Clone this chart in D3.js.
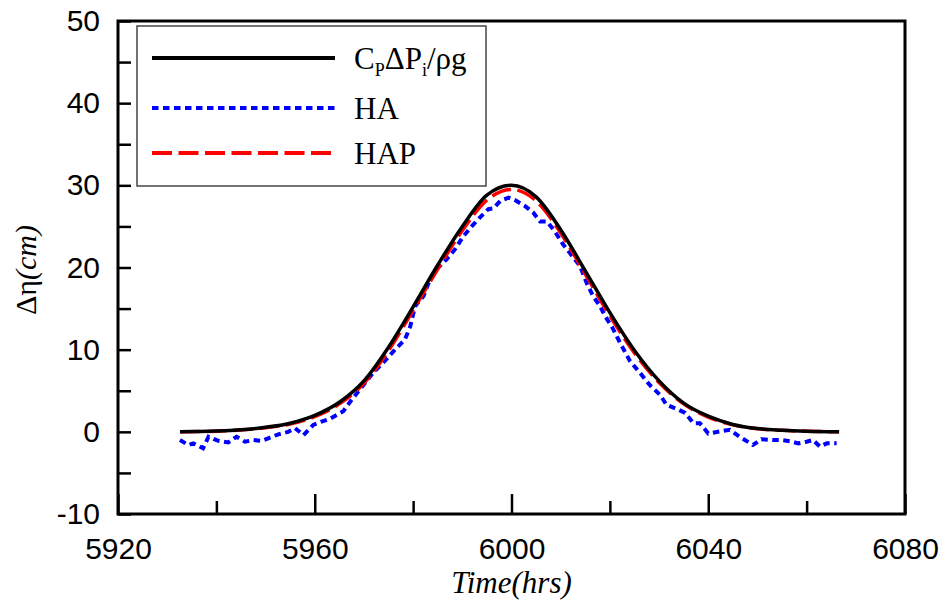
<!DOCTYPE html>
<html lang="en">
    <body onload='init()'>
        <svg></svg>
    </body>

    <script src='https://d3js.org/d3.v7.min.js'></script>

    <script>
        // values
        var cpTime = [5932.6, 5935, 5940, 5945, 5950, 5955, 5960, 5965, 5970, 5975, 5980, 5985, 5990, 5995, 6000,
                      6005, 6010, 6015, 6020, 6025, 6030, 6035, 6040, 6045, 6050, 6055, 6060, 6066.6];
        var cpVal  = [0.0, 0.03, 0.1, 0.25, 0.55, 1.05, 2.0, 3.6, 6.2, 10.3, 15.2, 20.3, 25.0, 28.8, 30.0,
                      28.6, 24.6, 19.6, 14.5, 9.9, 6.2, 3.5, 1.9, 0.9, 0.4, 0.2, 0.08, 0.0];

        var hapTime = cpTime;
        var hapVal  = [0.0, 0.02, 0.08, 0.22, 0.5, 0.95, 1.85, 3.4, 5.9, 9.9, 14.8, 19.8, 24.5, 28.2, 29.5,
                       28.1, 24.2, 19.2, 14.1, 9.6, 6.0, 3.4, 1.8, 0.85, 0.38, 0.18, 0.07, 0.0];

        var haTime = [5932.6, 5934.3, 5935.3, 5937.3, 5938.4, 5940.4, 5942.4, 5944.1, 5945.8, 5947.5, 5949.2,
                      5950.9, 5952.6, 5954.6, 5956.0, 5957.7, 5959.7, 5961.4, 5963.1, 5965.8, 5967.5, 5969.9,
                      5971.9, 5973.9, 5976.3, 5978.3, 5979.4, 5980.4, 5982.1, 5983.4, 5985.1, 5986.8, 5988.5,
                      5990.2, 5991.9, 5993.6, 5995.3, 5996.3, 5997.7, 5999.4, 6000.7, 6002.7, 6004.4, 6005.8,
                      6007.2, 6008.8, 6010.5, 6012.6, 6013.9, 6015.3, 6016.6, 6018.0, 6019.0, 6020.4, 6022.1,
                      6024.1, 6026.1, 6028.1, 6030.2, 6031.5, 6033.9, 6035.3, 6037.0, 6038.3, 6040.0, 6042.4,
                      6044.4, 6046.4, 6049.1, 6050.8, 6053.2, 6054.9, 6057.0, 6058.3, 6060.0, 6061.3, 6062.7,
                      6064.1, 6066.1];
        var haVal  = [-1.0, -1.6, -1.4, -2.0, -0.6, -1.1, -1.3, -0.6, -1.2, -1.0, -1.1,
                      -0.7, -0.3, 0.0, 0.45, -0.4, 0.85, 1.25, 1.6, 2.5, 3.9, 5.7,
                      7.2, 8.4, 10.0, 11.2, 12.8, 15.3, 16.5, 18.5, 20.0, 21.0, 22.2,
                      23.8, 25.0, 26.1, 27.1, 27.2, 28.1, 28.5, 28.2, 27.5, 26.7, 25.6,
                      25.6, 24.4, 22.8, 21.2, 20.2, 18.1, 16.5, 15.3, 14.1, 12.8, 10.8,
                      8.6, 7.2, 5.7, 4.5, 3.3, 2.7, 2.3, 1.05, 1.05, -0.2, 0.05,
                      0.25, -0.6, -1.6, -0.9, -1.0, -1.0, -1.2, -1.4, -1.2, -1.0, -1.8,
                      -1.4, -1.4];

        var xTicks = [5920, 5960, 6000, 6040, 6080];
        var xMinor = [5940, 5980, 6020, 6060];
        var yTicks = [-10, 0, 10, 20, 30, 40, 50];
        var yMinor = [-5, 5, 15, 25, 35, 45];

        function init() {
            var width = 944;
            var height = 608;
            var left = 118, right = 905, top = 21, bottom = 514;

            var svg = d3.select('svg')
                .attr("width", width)
                .attr("height", height)
                .style("position", "absolute")
                .style("left", 0)
                .style("top", 0);

            var x = d3.scaleLinear().domain([5920, 6080]).range([left, right]);
            var y = d3.scaleLinear().domain([-10, 50]).range([bottom, top]);

            // curves: HA under, HAP, then the reference line on top
            var smooth = d3.line().x(function (d) { return x(d[0]); }).y(function (d) { return y(d[1]); })
                .curve(d3.curveMonotoneX);
            var rough = d3.line().x(function (d) { return x(d[0]); }).y(function (d) { return y(d[1]); });

            svg.append("path")
                .attr("d", rough(d3.zip(haTime, haVal)))
                .attr("fill", "none")
                .attr("stroke", "#0000ff")
                .attr("stroke-width", 4)
                .attr("stroke-dasharray", "6.5,4.5");

            svg.append("path")
                .attr("d", smooth(d3.zip(hapTime, hapVal)))
                .attr("fill", "none")
                .attr("stroke", "#ff0000")
                .attr("stroke-width", 3.5)
                .attr("stroke-dasharray", "20,6.5");

            svg.append("path")
                .attr("d", smooth(d3.zip(cpTime, cpVal)))
                .attr("fill", "none")
                .attr("stroke", "#000")
                .attr("stroke-width", 3.5);

            // axes with inward ticks
            var tickFont = "'Liberation Sans', Arial, sans-serif";
            var plain = function (d) { return String(d); };   // keep the ascii hyphen in -10

            var gx = svg.append("g")
                .attr("transform", "translate(0," + bottom + ")")
                .call(d3.axisBottom(x).tickValues(xTicks).tickSize(-20).tickPadding(24).tickFormat(plain));
            var gxm = svg.append("g")
                .attr("transform", "translate(0," + bottom + ")")
                .call(d3.axisBottom(x).tickValues(xMinor).tickSize(-13).tickFormat(""));
            var gy = svg.append("g")
                .attr("transform", "translate(" + left + ",0)")
                .call(d3.axisLeft(y).tickValues(yTicks).tickSize(-13).tickPadding(18).tickFormat(plain));
            var gym = svg.append("g")
                .attr("transform", "translate(" + left + ",0)")
                .call(d3.axisLeft(y).tickValues(yMinor).tickSize(-13).tickFormat(""));

            [gx, gxm, gy, gym].forEach(function (g) {
                g.select(".domain").remove();
                g.selectAll("line").attr("stroke", "#000").attr("stroke-width", 2.5);
                g.selectAll("text").attr("font-family", tickFont).attr("font-size", 30).attr("fill", "#000");
            });

            svg.append("rect")
                .attr("x", left).attr("y", top)
                .attr("width", right - left).attr("height", bottom - top)
                .attr("fill", "none")
                .attr("stroke", "#000")
                .attr("stroke-width", 3);

            // axis titles
            var serif = "'Liberation Serif', 'Times New Roman', serif";
            svg.append("text")
                .attr("x", (left + right) / 2).attr("y", 593)
                .attr("text-anchor", "middle")
                .attr("font-family", serif).attr("font-size", 31).attr("font-style", "italic")
                .text("Time(hrs)");

            var yt = svg.append("text")
                .attr("transform", "translate(36,270) rotate(-90)")
                .attr("text-anchor", "middle")
                .attr("font-family", serif).attr("font-size", 30);
            yt.append("tspan").text("Δη");
            yt.append("tspan").attr("font-style", "italic").text("(cm)");

            // legend
            var lg = svg.append("g");
            lg.append("rect")
                .attr("x", 137).attr("y", 26).attr("width", 349).attr("height", 160)
                .attr("fill", "#fff").attr("stroke", "#444").attr("stroke-width", 1.5);

            var items = [
                {stroke: "#000", dash: null, w: 4, yy: 58},
                {stroke: "#0000ff", dash: "6.5,4.5", w: 4, yy: 108},
                {stroke: "#ff0000", dash: "20,6.5", w: 4, yy: 153}
            ];
            items.forEach(function (it) {
                lg.append("line")
                    .attr("x1", 152).attr("x2", 335).attr("y1", it.yy).attr("y2", it.yy)
                    .attr("stroke", it.stroke).attr("stroke-width", it.w)
                    .attr("stroke-dasharray", it.dash);
            });

            var t1 = lg.append("text").attr("x", 354).attr("y", 69)
                .attr("font-family", serif).attr("font-size", 31);
            t1.append("tspan").text("C");
            t1.append("tspan").attr("font-size", 18).attr("dy", 7).text("P");
            t1.append("tspan").attr("dy", -7).text("ΔP");
            t1.append("tspan").attr("font-size", 18).attr("dy", 7).text("i");
            t1.append("tspan").attr("dy", -7).text("/ρg");

            lg.append("text").attr("x", 354).attr("y", 119)
                .attr("font-family", serif).attr("font-size", 31).text("HA");
            lg.append("text").attr("x", 354).attr("y", 164)
                .attr("font-family", serif).attr("font-size", 31).text("HAP");
        }
    </script>

    <style>
        body { margin: 0; background: #fff; }
    </style>
</html>
